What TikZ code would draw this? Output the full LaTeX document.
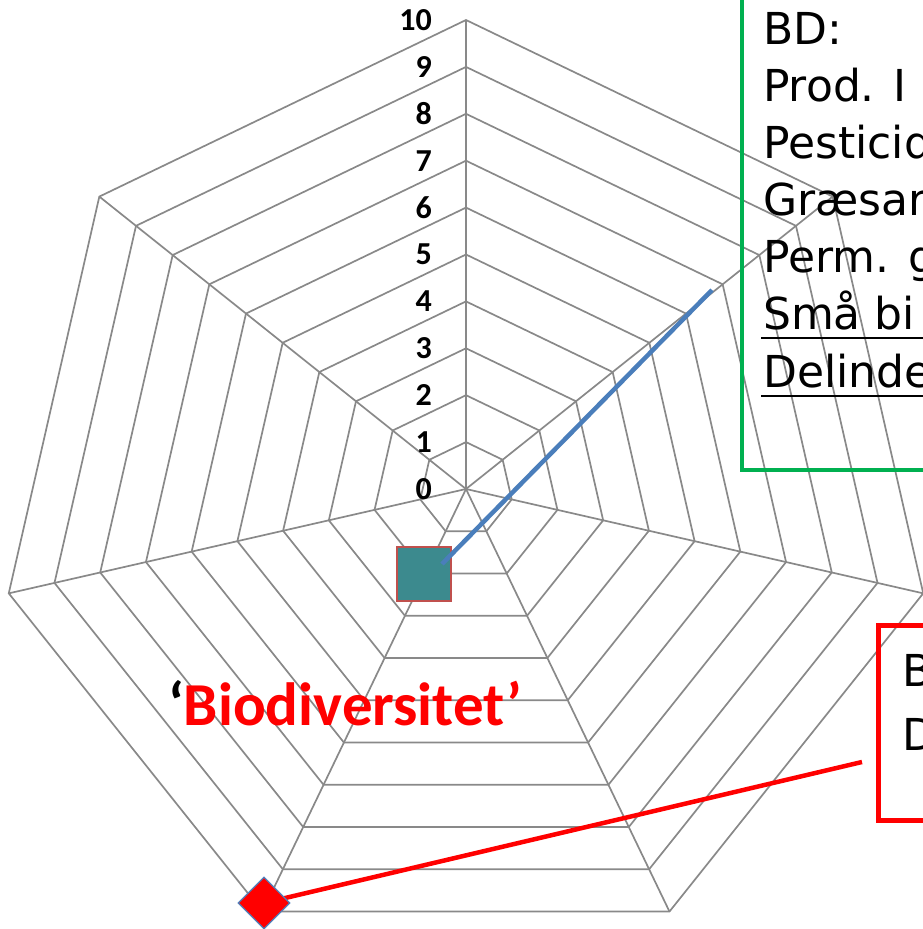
\documentclass[tikz,border=0pt]{standalone}
\usepackage{fontspec}
\setmainfont{Carlito}
\newfontfamily\boxfont{DejaVu Sans}
\usetikzlibrary{shapes.geometric}
\definecolor{gridgray}{HTML}{898989}
\definecolor{boxgreen}{HTML}{00B050}
\definecolor{boxred}{HTML}{FF0000}
\definecolor{lineblue}{HTML}{4A7EBB}
\definecolor{sqteal}{HTML}{3C8A8E}
\definecolor{sqborder}{HTML}{C0504D}
\definecolor{dmborder}{HTML}{4F81BD}
\tikzset{
  gridline/.style={draw=gridgray, line width=1.7, line join=miter},
  numlbl/.style={font=\fontsize{32}{32}\selectfont\bfseries, inner sep=0, anchor=east},
  boxtext/.style={font=\boxfont\fontsize{44}{57}\selectfont, inner sep=0, anchor=base west},
  greenbox/.style={draw=boxgreen, line width=4.5},
  redbox/.style={draw=boxred, line width=5},
  uline/.style={draw=black, line width=2.5},
}
\begin{document}
\begin{tikzpicture}[x=1pt,y=1pt]
\useasboundingbox (-466,-440) rectangle (457,489);
\clip (-466,-440) rectangle (457,489);
% rings
\foreach \k in {1,...,10}{
  \draw[gridline] (90:{\k*46.9}) -- (141.4286:{\k*46.9}) -- (192.8571:{\k*46.9})
    -- (244.2857:{\k*46.9}) -- (295.7143:{\k*46.9}) -- (347.1429:{\k*46.9})
    -- (38.5714:{\k*46.9}) -- cycle;
}
% spokes
\foreach \a in {141.4286,192.8571,244.2857,295.7143,347.1429,38.5714}{
  \draw[gridline] (0,0) -- (\a:469);
}
\draw[gridline, line width=2.2] (0,0) -- (90:469);
% axis numbers
\foreach \k in {0,...,10}{
  \node[numlbl] (n\k) at (-34,{\k*46.9}) {\k};
}
% green box with text
\draw[greenbox] (276,19) rectangle (470,500);
\node[boxtext] (g1) at (297,444) {BD:};
\node[boxtext] (g2) at (297,387) {Prod. I};
\node[boxtext] (g3) at (297,330) {Pesticid};
\node[boxtext] (g4) at (297,273) {Græsar};
\node[boxtext] (g5) at (297,216) {Perm. g};
\node[boxtext] (g6) at (297,159) {Små bi};
\node[boxtext] (g7) at (297,101) {Delinde};
\draw[uline] (295,151) -- (470,151);
\draw[uline] (295,93) -- (470,93);
% red box with text
\draw[redbox] (412,-331) rectangle (470,-136);
\node[boxtext] (r1) at (436,-197) {B};
\node[boxtext] (r2) at (436,-261) {D};
% teal square and blue connector
\node[draw=sqborder, fill=sqteal, line width=1.2, minimum size=54, inner sep=0] (sq) at (-42,-85) {};
\coordinate (bstart) at (-24,-75);
\coordinate (bend) at (246,199);
\draw[lineblue, line width=4.5] (bstart) -- (bend);
% red connector and diamond
\coordinate (dmc) at (-202,-414);
\coordinate (rend) at (396,-273);
\draw[boxred, line width=4.5] (dmc) -- (rend);
\node[diamond, aspect=1, draw=dmborder, fill=boxred, line width=1.2, minimum width=52, minimum height=52, inner sep=0] (dm) at (dmc) {};
% label
\node[font=\fontsize{61}{61}\selectfont\bfseries, inner sep=0, anchor=base west] (bio) at (-298,-236) {\textcolor{black}{‘}\textcolor{boxred}{Biodiversitet’}};
\end{tikzpicture}
\end{document}
